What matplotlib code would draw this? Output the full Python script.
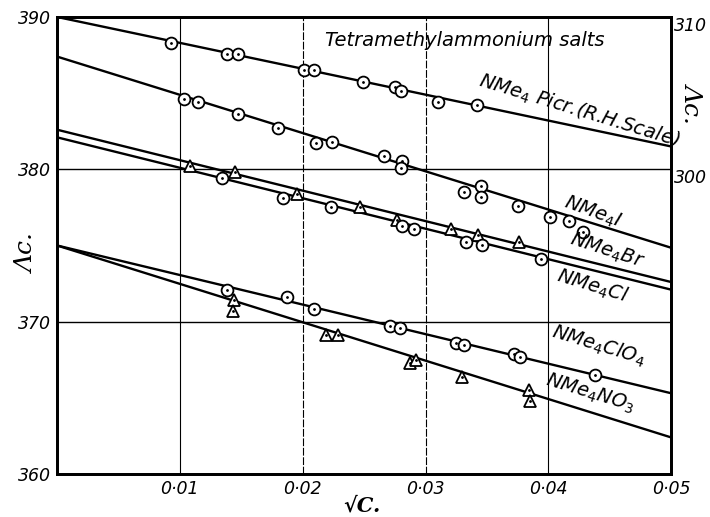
import matplotlib
matplotlib.use("Agg")
import matplotlib.pyplot as plt

# fitted straight lines, value at sqrt(c)=0 and at sqrt(c)=0.05
line_x = [0.0, 0.05]
picr_line = [310.0, 301.5]  # right-hand scale
iodide_line = [387.4, 374.85]
bromide_line = [382.6, 372.6]
chloride_line = [382.1, 372.1]
perchlorate_line = [375.0, 365.3]
nitrate_line = [375.0, 362.4]

# measured points
picr_x = [0.0093, 0.0138, 0.0147, 0.0201, 0.0209, 0.0249, 0.0275, 0.0280, 0.0310, 0.0342]
picr_y = [308.3, 307.6, 307.6, 306.5, 306.5, 305.7, 305.4, 305.15, 304.4, 304.2]

iodide_x = [0.0103, 0.0115, 0.0147, 0.0180, 0.0211, 0.0224, 0.0266, 0.0281, 0.0280,
            0.0331, 0.0345, 0.0345, 0.0375, 0.0401, 0.0417, 0.0428]
iodide_y = [384.6, 384.4, 383.6, 382.7, 381.75, 381.8, 380.9, 380.55, 380.1,
            378.5, 378.9, 378.2, 377.6, 376.9, 376.6, 375.9]

bromide_x = [0.0108, 0.0145, 0.0195, 0.0247, 0.0277, 0.0321, 0.0343, 0.0376]
bromide_y = [380.2, 379.85, 378.35, 377.5, 376.7, 376.05, 375.7, 375.2]

chloride_x = [0.0134, 0.0184, 0.0223, 0.0281, 0.0291, 0.0333, 0.0346, 0.0394]
chloride_y = [379.4, 378.1, 377.55, 376.25, 376.05, 375.2, 375.05, 374.1]

perchlorate_x = [0.0138, 0.0187, 0.0209, 0.0271, 0.0279, 0.0325, 0.0331, 0.0372, 0.0377, 0.0438]
perchlorate_y = [372.05, 371.6, 370.8, 369.7, 369.55, 368.6, 368.45, 367.85, 367.65, 366.5]

nitrate_x = [0.0144, 0.0143, 0.0219, 0.0229, 0.0287, 0.0292, 0.0330, 0.0384, 0.0385]
nitrate_y = [371.45, 370.7, 369.1, 369.15, 367.3, 367.5, 366.35, 365.5, 364.8]

x_ticks = [0.01, 0.02, 0.03, 0.04, 0.05]
x_ticklabels = ["0·01", "0·02", "0·03", "0·04", "0·05"]
left_ticks = [360, 370, 380, 390]
right_ticks = [300, 310]

FONT = "DejaVu Sans"


def circles(ax, xs, ys):
    ax.plot(xs, ys, "o", ms=8.5, mfc="white", mec="black", mew=1.3, zorder=4, clip_on=False)
    ax.plot(xs, ys, ".", ms=2.0, color="black", zorder=5, clip_on=False)


def triangles(ax, xs, ys):
    ax.plot(xs, ys, "^", ms=9, mfc="white", mec="black", mew=1.3, zorder=4, clip_on=False)
    ax.plot(xs, ys, ".", ms=2.0, color="black", zorder=5, clip_on=False)


fig = plt.figure(figsize=(7.1, 5.17), dpi=100)
ax = fig.add_axes([0.0803, 0.0832, 0.865, 0.884])
ax2 = ax.twinx()

ax.set_xlim(0, 0.05)
ax.set_ylim(360, 390)
ax2.set_ylim(280, 310)

for spine in list(ax.spines.values()) + list(ax2.spines.values()):
    spine.set_linewidth(2.0)

# grid
for gx in [0.01, 0.04]:
    ax.axvline(gx, color="black", lw=0.8, zorder=1)
for gx in [0.02, 0.03]:
    ax.axvline(gx, color="black", lw=0.8, ls=(0, (7, 1.5)), zorder=1)
for gy in [370, 380]:
    ax.axhline(gy, color="black", lw=1.0, zorder=1)

lw = 1.7
ax.plot(line_x, iodide_line, color="black", lw=lw, zorder=3)
ax.plot(line_x, bromide_line, color="black", lw=lw, zorder=3)
ax.plot(line_x, chloride_line, color="black", lw=lw, zorder=3)
ax.plot(line_x, perchlorate_line, color="black", lw=lw, zorder=3)
ax.plot(line_x, nitrate_line, color="black", lw=lw, zorder=3)
ax2.plot(line_x, picr_line, color="black", lw=lw, zorder=3)

circles(ax2, picr_x, picr_y)
circles(ax, iodide_x, iodide_y)
triangles(ax, bromide_x, bromide_y)
circles(ax, chloride_x, chloride_y)
circles(ax, perchlorate_x, perchlorate_y)
triangles(ax, nitrate_x, nitrate_y)

# ticks
ax.set_xticks(x_ticks)
ax.set_xticklabels(x_ticklabels, fontsize=12.5, fontstyle="italic", family=FONT)
ax.set_yticks(left_ticks)
ax.set_yticklabels([str(t) for t in left_ticks], fontsize=12.5, fontstyle="italic", family=FONT)
ax2.set_yticks(right_ticks)
ax2.set_yticklabels([str(t) for t in right_ticks], fontsize=12.5, fontstyle="italic", family=FONT)
ax.tick_params(length=0, pad=4)
ax2.tick_params(length=0, pad=2)
for lab in ax2.get_yticklabels():
    lab.set_verticalalignment("top")

# axis titles
fig.text(0.038, 0.51, "Λc.", rotation=90, fontsize=18, fontstyle="italic",
         family="DejaVu Serif", ha="center", va="center")
fig.text(0.975, 0.80, "Λc.", rotation=-90, fontsize=18, fontstyle="italic",
         family="DejaVu Serif", ha="center", va="center")
fig.text(0.51, 0.022, "√C.", fontsize=15, fontstyle="italic", family="DejaVu Serif",
         fontweight="bold", ha="center", va="center")

# annotations
tk = dict(fontsize=14, fontstyle="italic", family=FONT, ha="center", va="center",
          transform=fig.transFigure)
fig.text(0.655, 0.922, "Tetramethylammonium salts", **tk)
fig.text(0.815, 0.785, r"NMe$_4$ Picr.(R.H.Scale)", rotation=-17, **tk)
fig.text(0.835, 0.59, r"NMe$_4$I", rotation=-20, **tk)
fig.text(0.855, 0.515, r"NMe$_4$Br", rotation=-18, **tk)
fig.text(0.835, 0.447, r"NMe$_4$Cl", rotation=-17, **tk)
fig.text(0.843, 0.332, r"NMe$_4$ClO$_4$", rotation=-17, **tk)
fig.text(0.832, 0.24, r"NMe$_4$NO$_3$", rotation=-17, **tk)

fig.savefig("out.png", dpi=100)
